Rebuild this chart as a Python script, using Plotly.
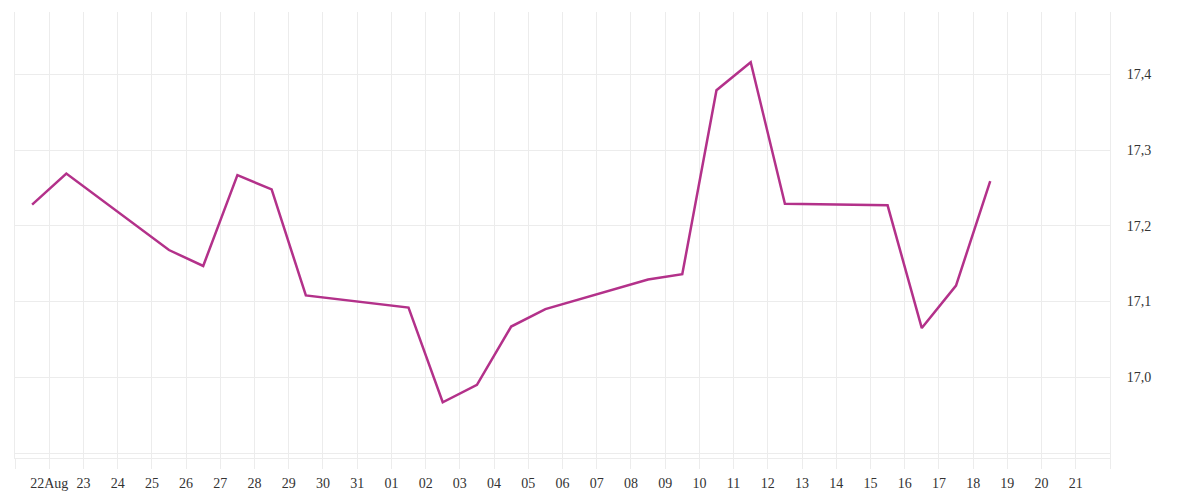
import pandas as pd
import plotly.graph_objects as go

# daily values (one point per trading day, drawn at midday)
dates = ["2025-08-21", "2025-08-22", "2025-08-25", "2025-08-26", "2025-08-27",
         "2025-08-28", "2025-08-29", "2025-09-01", "2025-09-02", "2025-09-03",
         "2025-09-04", "2025-09-05", "2025-09-08", "2025-09-09", "2025-09-10",
         "2025-09-11", "2025-09-12", "2025-09-15", "2025-09-16", "2025-09-17",
         "2025-09-18"]
values = [17.228, 17.269, 17.168, 17.147, 17.267,
          17.248, 17.108, 17.092, 16.967, 16.990,
          17.067, 17.090, 17.129, 17.136, 17.379,
          17.416, 17.229, 17.227, 17.065, 17.121,
          17.259]

tick_days = pd.date_range("2025-08-21", "2025-09-22", freq="D")
tick_labels = ["" if d in (tick_days[0], tick_days[-1])
               else (d.strftime("%d") + ("Aug" if d.day == 22 else ""))
               for d in tick_days]

x = pd.to_datetime(dates) + pd.Timedelta(hours=12)

grid = "#ececec"

fig = go.Figure(go.Scatter(
    x=x, y=values, mode="lines",
    line=dict(color="#b3318a", width=2.5),
))

# page body adds an 8px offset, so margins are shifted to compensate
fig.update_layout(
    width=1200, height=500,
    margin=dict(l=7, r=98, t=4, b=50),
    paper_bgcolor="white", plot_bgcolor="white",
    showlegend=False,
    separators=", ",
    font=dict(family="Liberation Serif", size=14, color="#333"),
)
fig.update_xaxes(
    type="date",
    range=[tick_days[0], tick_days[-1]],
    tickmode="array", tickvals=tick_days, ticktext=tick_labels,
    showgrid=True, gridcolor=grid, gridwidth=1,
    ticks="outside", ticklen=10, tickcolor=grid,
    ticklabelstandoff=2,
    showline=True, linecolor=grid, linewidth=1,
    zeroline=False, automargin=False,
)
fig.update_yaxes(
    side="right",
    range=[16.8934, 17.4823],
    tickvals=[16.9, 17.0, 17.1, 17.2, 17.3, 17.4],
    ticktext=["", "17,0", "17,1", "17,2", "17,3", "17,4"],
    showgrid=True, gridcolor=grid, gridwidth=1,
    ticks="", ticklabelstandoff=13,
    showline=True, mirror=True, linecolor=grid, linewidth=1,
    zeroline=False, automargin=False,
)

fig.write_html("out.html")
